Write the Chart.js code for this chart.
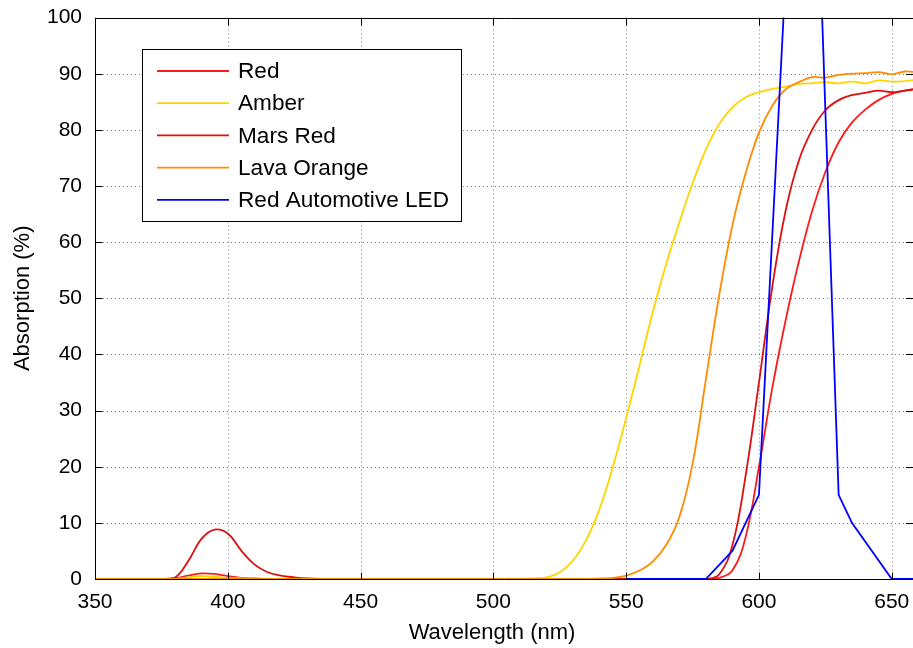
<!DOCTYPE html>
<html>
<head>
<meta charset="utf-8">
<script src="https://cdn.jsdelivr.net/npm/chart.js@4.4.1/dist/chart.umd.min.js"></script>
<style>
  html, body { margin: 0; padding: 0; background: #fff; overflow: hidden; }
</style>
</head>
<body>
<canvas id="absChart" width="913" height="648"></canvas>
<script>
// wavelengths (nm), 5 nm steps
const wavelengths = [350, 355, 360, 365, 370, 375, 380, 385, 390, 395,
  400, 405, 410, 415, 420, 425, 430, 435, 440, 445,
  450, 455, 460, 465, 470, 475, 480, 485, 490, 495,
  500, 505, 510, 515, 520, 525, 530, 535, 540, 545,
  550, 555, 560, 565, 570, 575, 580, 585, 590, 595,
  600, 605, 610, 615, 620, 625, 630, 635, 640, 645,
  650, 655, 660];

const redVals = [0, 0, 0, 0, 0, 0, 0.1, 0.6, 1.0, 0.9,
  0.5, 0.2, 0.1, 0, 0, 0, 0, 0, 0, 0,
  0, 0, 0, 0, 0, 0, 0, 0, 0, 0,
  0, 0, 0, 0, 0, 0, 0, 0, 0, 0,
  0, 0, 0, 0, 0, 0, 0, 0.2, 1.5, 7.5,
  20, 34, 46, 56.5, 65.5, 72.5, 77.8, 81.3, 83.6, 85.3,
  86.4, 87, 87.4];

const amberVals = [0, 0, 0, 0, 0, 0, 0, 0.3, 0.5, 0.4,
  0.2, 0.1, 0, 0, 0, 0, 0, 0, 0, 0,
  0, 0, 0, 0, 0, 0, 0, 0, 0, 0,
  0, 0, 0, 0.1, 0.3, 1.2, 3.3, 7, 12.5, 20,
  28.7, 38, 47.5, 56, 63.5, 70.5, 76.5, 81, 84, 85.8,
  86.7, 87.3, 87.7, 88.2, 88.3, 88.5, 88.3, 88.6, 88.3, 88.8,
  88.6, 88.7, 89];

const marsRedVals = [0, 0, 0, 0, 0, 0, 0.2, 3.1, 7.1, 8.8,
  8.1, 5.1, 2.6, 1.2, 0.6, 0.3, 0.1, 0, 0, 0,
  0, 0, 0, 0, 0, 0, 0, 0, 0, 0,
  0, 0, 0, 0, 0, 0, 0, 0, 0, 0,
  0, 0, 0, 0, 0, 0, 0, 0.8, 6, 18.5,
  35, 52, 65.5, 74.5, 80, 83.5, 85.3, 86.2, 86.6, 87,
  86.7, 87, 87.3];

const lavaOrangeVals = [0, 0, 0, 0, 0, 0, 0, 0, 0, 0,
  0, 0, 0, 0, 0, 0, 0, 0, 0, 0,
  0, 0, 0, 0, 0, 0, 0, 0, 0, 0,
  0, 0, 0, 0, 0, 0, 0, 0, 0.1, 0.2,
  0.6, 1.5, 3.1, 6, 11, 20.5, 35.5, 50.5, 63, 72.3,
  79.5, 84.3, 87.2, 88.5, 89.4, 89.3, 89.8, 90, 90.1, 90.3,
  89.9, 90.4, 90.2];

// LED measured at coarser points
const ledWavelengths = [550, 560, 570, 580, 590, 600, 610, 620, 630, 635, 650, 660];
const ledVals = [0, 0, 0, 0, 5, 15, 107, 152, 15, 10, 0, 0];

const seriesNames = ['Red', 'Amber', 'Mars Red', 'Lava Orange', 'Red Automotive LED'];
const seriesColors = ['#ff1a1a', '#ffd500', '#dd0f0f', '#ff8c00', '#0000ff'];

const xTicks = [350, 400, 450, 500, 550, 600, 650];
const yTicks = [0, 10, 20, 30, 40, 50, 60, 70, 80, 90, 100];

function toPoints(xs, ys) {
  return xs.map((x, i) => ({ x: x, y: ys[i] }));
}

const allVals = [redVals, amberVals, marsRedVals, lavaOrangeVals];

// datasets; later ones drawn on top like the original
const datasets = seriesNames.map((name, i) => {
  const isLed = i === 4;
  return {
    label: name,
    data: isLed ? toPoints(ledWavelengths, ledVals) : toPoints(wavelengths, allVals[i]),
    borderColor: seriesColors[i],
    backgroundColor: seriesColors[i],
    borderWidth: 1.8,
    pointRadius: 0,
    fill: false,
    tension: isLed ? 0 : 0.4,
    order: 5 - i
  };
});

const FONT = '"Liberation Sans", Arial, Helvetica, sans-serif';

// box, dotted grid, inward ticks, axis titles and framed legend (matlab look)
const matlabLook = {
  id: 'matlabLook',
  beforeDatasetsDraw(chart) {
    const { ctx, chartArea: a, scales } = chart;
    ctx.save();
    ctx.strokeStyle = 'rgba(0,0,0,0.5)';
    ctx.lineWidth = 1;
    ctx.setLineDash([1, 3]);
    xTicks.forEach(v => {
      const px = Math.round(scales.x.getPixelForValue(v)) + 0.5;
      ctx.beginPath(); ctx.moveTo(px, a.top); ctx.lineTo(px, a.bottom); ctx.stroke();
    });
    yTicks.forEach(v => {
      const py = Math.round(scales.y.getPixelForValue(v)) + 0.5;
      ctx.beginPath(); ctx.moveTo(a.left, py); ctx.lineTo(a.right, py); ctx.stroke();
    });
    ctx.restore();
  },
  afterDatasetsDraw(chart) {
    const { ctx, chartArea: a, scales } = chart;
    ctx.save();
    ctx.strokeStyle = '#000';
    ctx.lineWidth = 1;
    ctx.setLineDash([]);
    const L = Math.round(a.left) + 0.5, T = Math.round(a.top) + 0.5;
    const B = Math.round(a.bottom) + 0.5, R = a.right;
    ctx.beginPath();
    ctx.moveTo(R, T); ctx.lineTo(L, T); ctx.lineTo(L, B); ctx.lineTo(R, B);
    ctx.stroke();
    const tk = 7;
    xTicks.forEach(v => {
      const px = Math.round(scales.x.getPixelForValue(v)) + 0.5;
      ctx.beginPath();
      ctx.moveTo(px, B); ctx.lineTo(px, B - tk);
      ctx.moveTo(px, T); ctx.lineTo(px, T + tk);
      ctx.stroke();
    });
    yTicks.forEach(v => {
      const py = Math.round(scales.y.getPixelForValue(v)) + 0.5;
      ctx.beginPath();
      ctx.moveTo(L, py); ctx.lineTo(L + tk, py);
      ctx.moveTo(R, py); ctx.lineTo(R - tk, py);
      ctx.stroke();
    });

    // axis titles
    ctx.fillStyle = '#000';
    ctx.font = '22px ' + FONT;
    ctx.textAlign = 'center';
    ctx.textBaseline = 'middle';
    ctx.fillText('Wavelength (nm)', 492, 633);
    ctx.save();
    ctx.translate(23, (a.top + a.bottom) / 2);
    ctx.rotate(-Math.PI / 2);
    ctx.fillText('Absorption (%)', 0, 0);
    ctx.restore();

    // legend
    const lx = 142.5, ly = 49.5, lw = 319, lh = 172;
    ctx.fillStyle = '#fff';
    ctx.fillRect(lx, ly, lw, lh);
    ctx.strokeStyle = '#000';
    ctx.strokeRect(lx, ly, lw, lh);
    ctx.textAlign = 'left';
    ctx.font = '22.6px ' + FONT;
    seriesNames.forEach((name, i) => {
      const yy = 71 + i * 32.2;
      ctx.strokeStyle = seriesColors[i];
      ctx.lineWidth = 1.8;
      ctx.beginPath(); ctx.moveTo(157, yy); ctx.lineTo(229, yy); ctx.stroke();
      ctx.fillStyle = '#000';
      ctx.fillText(name, 238, yy + 1);
    });
    ctx.restore();
  }
};

const absChart = new Chart(document.getElementById('absChart').getContext('2d'), {
  type: 'line',
  data: { datasets: datasets },
  options: {
    responsive: false,
    animation: false,
    devicePixelRatio: 1,
    layout: { padding: { top: 17, right: 0, left: 0, bottom: 0 } },
    plugins: {
      legend: { display: false },
      tooltip: { enabled: false }
    },
    scales: {
      x: {
        type: 'linear',
        min: 350,
        max: 658,
        afterBuildTicks: s => { s.ticks = xTicks.map(v => ({ value: v })); },
        afterFit: s => { s.height = 69; },
        grid: { display: false },
        border: { display: false },
        ticks: { color: '#000', font: { family: FONT, size: 21 }, padding: 3, maxRotation: 0 }
      },
      y: {
        min: 0,
        max: 100,
        afterBuildTicks: s => { s.ticks = yTicks.map(v => ({ value: v })); },
        afterFit: s => { s.width = 95; },
        grid: { display: false },
        border: { display: false },
        ticks: { color: '#000', font: { family: FONT, size: 21 }, padding: 5 }
      }
    }
  },
  plugins: [matlabLook]
});
</script>
</body>
</html>
